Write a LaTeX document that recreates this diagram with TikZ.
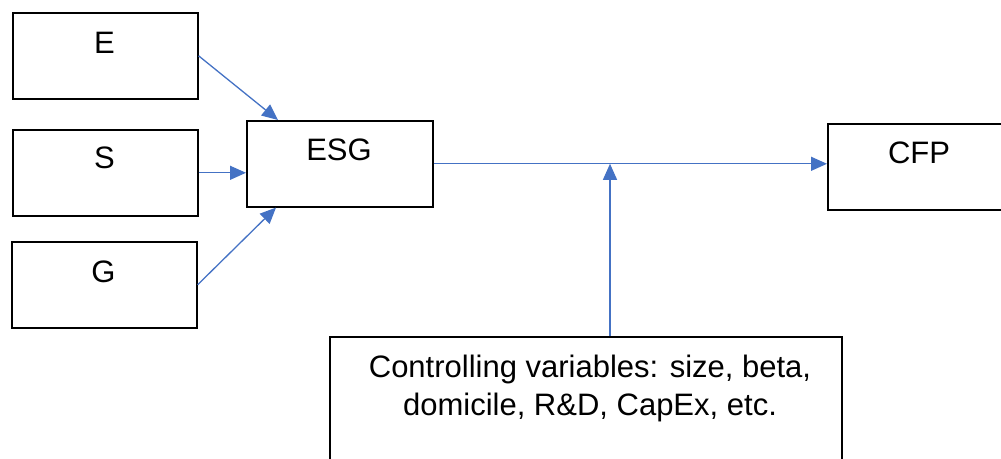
\documentclass[tikz,border=0pt]{standalone}
\usepackage{fontspec}
\setmainfont{Liberation Sans}
\usetikzlibrary{arrows.meta,calc}
\definecolor{linkblue}{RGB}{68,114,196}
\begin{document}
\begin{tikzpicture}[x=1pt,y=-1pt,
  box/.style={draw=black,line width=1.6pt,rectangle,minimum width=#1,
    minimum height=86pt,inner sep=0pt,anchor=north west},
  lbl/.style={font=\fontsize{31}{38}\selectfont,anchor=base,inner sep=0pt,align=center},
  link/.style={draw=linkblue,line width=1.3pt,-{Triangle[length=16pt,width=14pt]}}]
\useasboundingbox (0,0) rectangle (1001,458);
\clip (0,0) rectangle (1001,458);

% boxes
\node[box=185pt] (E) at (12,12) {};
\node[box=185pt] (S) at (12,129) {};
\node[box=185pt] (G) at (11,241) {};
\node[box=186pt] (ESG) at (246,120) {};
\node[box=184pt] (CFP) at (827,123) {};
\node[box=512pt,minimum height=150pt] (ctrl) at (329,336) {};

% labels (multi-line label is anchored on its last baseline)
\node[lbl] (Etxt) at (104.5,53) {E};
\node[lbl] (Stxt) at (104.5,168) {S};
\node[lbl] (Gtxt) at (103.5,282) {G};
\node[lbl] (ESGtxt) at (339,160) {ESG};
\node[lbl] (CFPtxt) at (919,163) {CFP};
\node[lbl] (ctrltxt) at (590,415) {Controlling variables: size, beta,\\domicile, R\&D, CapEx, etc.};

% connectors
\coordinate (ESGin1) at ($(ESG.north west)+(32,0)$);
\coordinate (ESGin3) at ($(ESG.south west)+(30,0)$);
\coordinate (ctrlout) at ($(ctrl.north west)+(281,0)$);
\draw[link] (E.east) -- (ESGin1);
\draw[link] (S.east) -- (S.east -| ESG.west);
\draw[link] (G.east) -- (ESGin3);
\draw[link] (ESG.east) -- (ESG.east -| CFP.west);
\draw[link] (ctrlout) -- (ctrlout |- ESG.east);
\end{tikzpicture}
\end{document}
